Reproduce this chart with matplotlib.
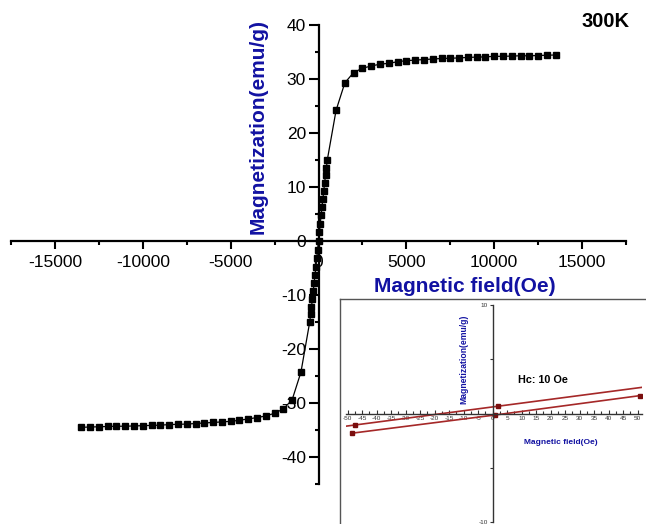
import matplotlib
matplotlib.use('Agg')
import matplotlib.pyplot as plt
from matplotlib.ticker import MultipleLocator, FixedLocator
from matplotlib import rcParams

rcParams.update({'font.family': ['Liberation Sans', 'DejaVu Sans'],
                 'axes.unicode_minus': False})

# main hysteresis loop (Oe, emu/g)
field_neg = [-13500, -13000, -12500, -12000, -11500, -11000, -10500, -10000, -9500, -9000,
             -8500, -8000, -7500, -7000, -6500, -6000, -5500, -5000, -4500, -4000,
             -3500, -3000, -2500, -2000, -1500, -1000]
mag_neg = [-34.5, -34.45, -34.4, -34.35, -34.3, -34.3, -34.25, -34.2, -34.15, -34.1,
           -34.0, -33.95, -33.9, -33.8, -33.7, -33.6, -33.5, -33.4, -33.2, -32.95,
           -32.7, -32.4, -31.9, -31.1, -29.4, -24.3]
field_mid = [-500, -450, -400, -350, -300, -250, -200, -150, -100, -50, 0,
             50, 100, 150, 200, 250, 300, 350, 400, 450, 500]
mag_mid = [-15.0, -13.6, -12.2, -10.8, -9.3, -7.8, -6.3, -4.8, -3.2, -1.6, 0.0,
           1.6, 3.2, 4.8, 6.3, 7.8, 9.3, 10.8, 12.2, 13.6, 15.0]
field_pos = [1000, 1500, 2000, 2500, 3000, 3500, 4000, 4500, 5000, 5500,
             6000, 6500, 7000, 7500, 8000, 8500, 9000, 9500, 10000, 10500,
             11000, 11500, 12000, 12500, 13000, 13500]
mag_pos = [24.2, 29.3, 31.2, 32.0, 32.4, 32.75, 32.9, 33.2, 33.4, 33.5,
           33.6, 33.7, 33.8, 33.85, 33.9, 34.0, 34.05, 34.1, 34.2, 34.2,
           34.25, 34.3, 34.3, 34.35, 34.4, 34.45]

# inset: low-field branches
up_field = [100, 1.7, -47.4, -100]
up_mag = [4.12, 0.68, -1.04, -2.88]
down_field = [-48.6, 0.9, 50.8]
down_mag = [-1.8, -0.12, 1.66]

blue = '#1212a2'
W, H = 646, 524
fig = plt.figure(figsize=(W / 100, H / 100), dpi=100)

# ---- main axes
ax = fig.add_axes([11 / W, 1 - 484 / H, 615 / W, 459 / H])
field = field_neg + field_mid + field_pos
mag = mag_neg + mag_mid + mag_pos
ax.plot(field, mag, color='black', lw=0.9, marker='s', ms=4.5, mfc='black', mec='black', zorder=3)
ax.set_xlim(-17500, 17500)
ax.set_ylim(-45, 40)
ax.spines['right'].set_visible(False)
ax.spines['top'].set_visible(False)
ax.spines['left'].set_position(('data', 0))
ax.spines['bottom'].set_position(('data', 0))
for s in ('left', 'bottom'):
    ax.spines[s].set_linewidth(1.6)
ax.xaxis.set_major_locator(FixedLocator([-15000, -10000, -5000, 0, 5000, 10000, 15000]))
ax.xaxis.set_minor_locator(MultipleLocator(2500))
ax.yaxis.set_major_locator(FixedLocator([-40, -30, -20, -10, 0, 10, 20, 30, 40]))
ax.yaxis.set_minor_locator(MultipleLocator(5))
ax.tick_params(axis='x', which='major', direction='out', length=6, width=1.5, labelsize=12.5, pad=4)
ax.tick_params(axis='x', which='minor', direction='out', length=3, width=1.5)
ax.tick_params(axis='y', which='major', direction='out', length=7, width=1.5, labelsize=12.5, pad=2)
ax.tick_params(axis='y', which='minor', direction='out', length=3, width=1.5)
ax.patch.set_alpha(0)

fig.text(258 / W, 1 - 126 / H, 'Magnetization(emu/g)', rotation=90, ha='center', va='center',
         fontsize=15, fontweight='bold', color=blue)
fig.text(464.5 / W, 1 - 287 / H, 'Magnetic field(Oe)', ha='center', va='center',
         fontsize=15, fontweight='bold', color=blue)
fig.text(606 / W, 1 - 21.5 / H, '300K', ha='center', va='center',
         fontsize=14.5, fontweight='bold', color='black')

# ---- inset frame
frame = fig.add_axes([340 / W, 1 - 560 / H, 340 / W, 261 / H])
frame.set_xticks([])
frame.set_yticks([])
for s in frame.spines.values():
    s.set_color('#555555')
    s.set_linewidth(1.0)

# ---- inset data
ins = fig.add_axes([346.3 / W, 1 - 522.3 / H, 295.2 / W, 217.3 / H])
ins.patch.set_alpha(0)
ins.plot(up_field, up_mag, color='#a52828', lw=1.2, marker='s', ms=3.2, mfc='#7a0e0e', mec='#7a0e0e')
ins.plot(down_field, down_mag, color='#a52828', lw=1.2, marker='s', ms=3.2, mfc='#7a0e0e', mec='#7a0e0e')
ins.set_xlim(-50.5, 51.3)
ins.set_ylim(-10, 10)
ins.spines['right'].set_visible(False)
ins.spines['top'].set_visible(False)
ins.spines['left'].set_position(('data', 0))
ins.spines['bottom'].set_position(('data', 0))
for s in ('left', 'bottom'):
    ins.spines[s].set_color('#333333')
    ins.spines[s].set_linewidth(1.0)
ins.xaxis.set_major_locator(FixedLocator(list(range(-50, 55, 5))))
ins.xaxis.set_minor_locator(MultipleLocator(2.5))
ins.yaxis.set_major_locator(FixedLocator([-10, 10]))
ins.yaxis.set_minor_locator(FixedLocator([-5, 5]))
ins.tick_params(axis='x', which='major', direction='in', length=3, width=0.8, labelsize=4.6, pad=2,
                color='#333333', labelcolor='#333333')
ins.tick_params(axis='x', which='minor', direction='in', length=2, width=0.8, color='#333333')
ins.tick_params(axis='y', which='major', direction='out', length=2.5, width=0.8, labelsize=4.6, pad=1,
                color='#333333', labelcolor='#333333')
ins.tick_params(axis='y', which='minor', direction='out', length=2, width=0.8, color='#333333')

fig.text(463.7 / W, 1 - 359 / H, 'Magnetization(emu/g)', rotation=90, ha='center', va='center',
         fontsize=6.2, fontweight='bold', color=blue)
fig.text(561 / W, 1 - 442.3 / H, 'Magnetic field(Oe)', ha='center', va='center',
         fontsize=6, fontweight='bold', color=blue)
fig.text(542.7 / W, 1 - 380 / H, 'Hc: 10 Oe', ha='center', va='center',
         fontsize=7.8, fontweight='bold', color='black')

fig.savefig('out.png', dpi=100)
